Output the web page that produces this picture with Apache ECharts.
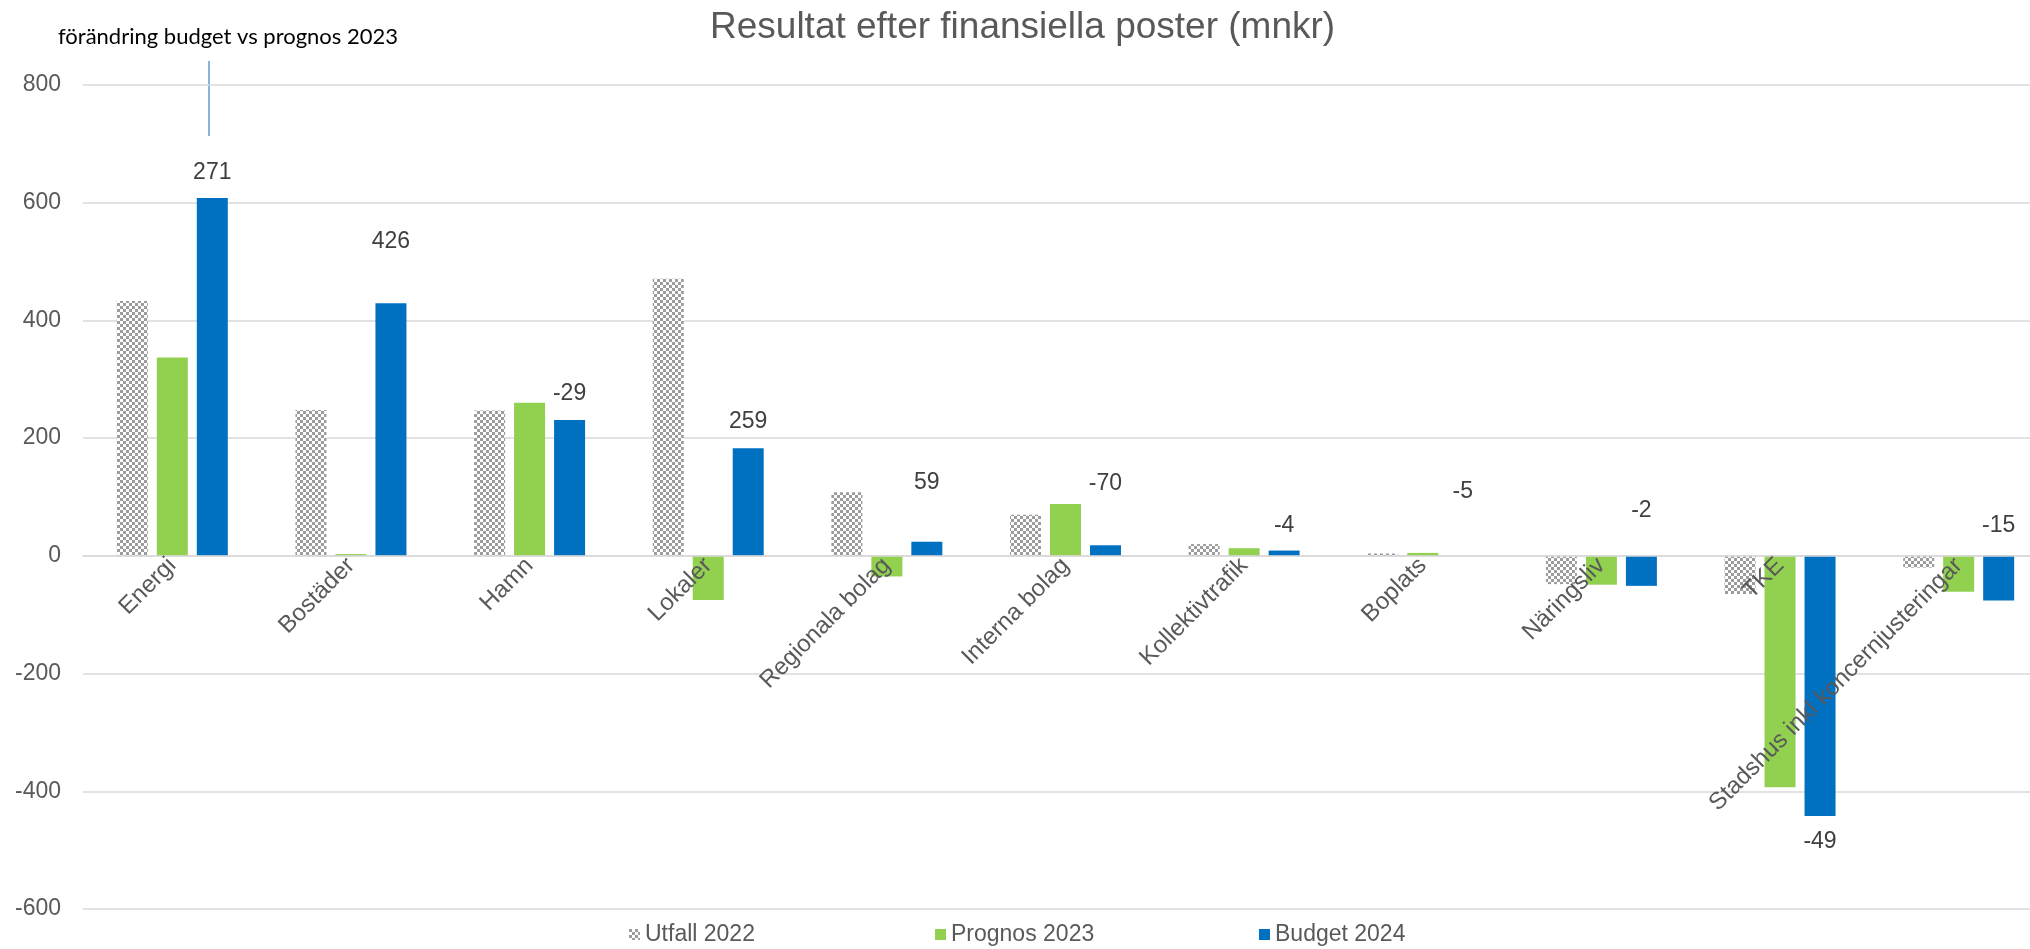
<!DOCTYPE html>
<html>
<head>
<meta charset="utf-8">
<title>Resultat efter finansiella poster</title>
<script src="https://cdn.jsdelivr.net/npm/echarts@6/dist/echarts.min.js"></script>
<style>
html, body { margin: 0; padding: 0; background: #fff; }
#chart { width: 2030px; height: 949px; }
</style>
</head>
<body>
<div id="chart"></div>
<script>
// kategorier (bolag)
const categories = ['Energi', 'Bostäder', 'Hamn', 'Lokaler', 'Regionala bolag', 'Interna bolag',
    'Kollektivtrafik', 'Boplats', 'Näringsliv', 'TKE', 'Stadshus inkl koncernjusteringar'];
// värden i mnkr
const utfall2022 = [433, 248, 247, 471, 108, 70, 20, 4, -48, -65, -20];
const prognos2023 = [337, 3, 260, -75, -35, 88, 13, 5, -49, -393, -61];
const budget2024 = [608, 429, 231, 183, 24, 18, 9, 0, -51, -442, -76];
// förändring budget vs prognos 2023 (etiketter över budgetstaplarna)
const changeLabels = ['271', '426', '-29', '259', '59', '-70', '-4', '-5', '-2', '-49', '-15'];
const yTicks = { min: -600, max: 800, interval: 200 };

// lite extra förskjutning för etiketterna, som i originalet
const labelNudge = [0, -36, -1, -1, -34, -36, 1, -39, -20, 0, -5];

const font = "'Liberation Sans', Arial, sans-serif";
const textColor = '#595959';

const gridTop = 85, gridHeight = 824;
// x-axeln ligger på nollan, inte längst ner
const zeroOffset = -gridHeight * (0 - yTicks.min) / (yTicks.max - yTicks.min);

// rutmönster för Utfall 2022
const makeChecker = () => {
    const c = document.createElement('canvas');
    c.width = 6; c.height = 6;
    const ctx = c.getContext('2d');
    ctx.fillStyle = '#ffffff';
    ctx.fillRect(0, 0, 6, 6);
    ctx.fillStyle = '#9c9c9c';
    ctx.fillRect(0, 0, 3, 3);
    ctx.fillRect(3, 3, 3, 3);
    return c;
};
const checker = { image: makeChecker(), repeat: 'repeat' };

const myChart = echarts.init(document.getElementById('chart'));

const budgetData = budget2024.map((v, i) => {
    const below = categories[i] === 'TKE';
    return {
        value: v,
        label: {
            position: below ? 'bottom' : 'top',
            offset: [0, labelNudge[i]]
        }
    };
});

const option = {
    animation: false,
    backgroundColor: '#ffffff',
    title: [
        {
            text: 'Resultat efter finansiella poster (mnkr)',
            left: 710,
            top: 9,
            padding: 0,
            textStyle: { fontFamily: font, fontSize: 37, fontWeight: 'normal', color: textColor }
        },
        {
            // textruta i originalet
            text: 'förändring budget vs prognos 2023',
            left: 58,
            top: 26,
            padding: 0,
            textStyle: { fontFamily: 'Lato', fontSize: 22, fontWeight: 'normal', color: '#000000' }
        }
    ],
    // tre separata legender för att få samma luftiga placering som Excel
    legend: [
        { data: ['Utfall 2022'], left: 629, top: 923 },
        { data: ['Prognos 2023'], left: 935, top: 923 },
        { data: ['Budget 2024'], left: 1259, top: 923 }
    ].map(l => Object.assign(l, {
        itemWidth: 11, itemHeight: 11, padding: 0, icon: 'rect',
        textStyle: { fontFamily: font, fontSize: 23, color: textColor }
    })),
    grid: { left: 83, top: gridTop, width: 1965, height: gridHeight, containLabel: false, outerBoundsMode: 'none' },
    xAxis: {
        type: 'category',
        data: categories,
        position: 'bottom',
        offset: zeroOffset,
        z: 5,
        axisLine: { onZero: false, lineStyle: { color: '#d9d9d9', width: 1.5 } },
        axisTick: { show: false },
        axisLabel: {
            interval: 0, rotate: 45, margin: 6,
            fontFamily: font, fontSize: 24, color: textColor
        }
    },
    yAxis: {
        type: 'value',
        min: yTicks.min, max: yTicks.max, interval: yTicks.interval,
        axisLine: { show: false },
        axisTick: { show: false },
        splitLine: { lineStyle: { color: '#d9d9d9', width: 1.5 } },
        axisLabel: { margin: 22, fontFamily: font, fontSize: 23, color: textColor }
    },
    series: [
        {
            name: 'Utfall 2022', type: 'bar',
            barWidth: 31, barGap: '29%',
            itemStyle: { color: checker },
            data: utfall2022
        },
        {
            name: 'Prognos 2023', type: 'bar',
            barWidth: 31, barGap: '29%',
            itemStyle: { color: '#92d050' },
            data: prognos2023
        },
        {
            name: 'Budget 2024', type: 'bar',
            barWidth: 31, barGap: '29%',
            itemStyle: { color: '#0070c0' },
            label: {
                show: true,
                distance: 14,
                fontFamily: font, fontSize: 23, color: '#404040',
                formatter: p => changeLabels[p.dataIndex]
            },
            data: budgetData
        }
    ],
    graphic: [
        {
            type: 'line',
            shape: { x1: 209, y1: 61, x2: 209, y2: 136 },
            style: { stroke: '#5b9bd5', lineWidth: 1.5 }
        }
    ]
};

myChart.setOption(option);
</script>
</body>
</html>
